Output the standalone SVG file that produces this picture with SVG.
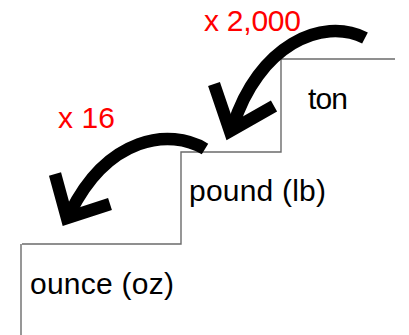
<svg xmlns="http://www.w3.org/2000/svg" width="409" height="335" viewBox="0 0 409 335">
<style>
.step{fill:none;stroke:#6b6b6b;stroke-width:1.4}
.arr{fill:none;stroke:#000;stroke-width:12.5}
.head{fill:none;stroke:#000;stroke-width:12.5;stroke-linejoin:miter;stroke-miterlimit:10}
.lbl{font-family:"Liberation Sans",Arial,sans-serif;font-size:30px;fill:#000}
.mul{font-family:"Liberation Sans",Arial,sans-serif;font-size:30px;fill:#ff0000}
</style>
<rect width="409" height="335" fill="#fff"/>
<g id="stairs">
<polyline class="step" points="395,59 281,59 281,152 181,152 181,244 22,244"/>
<line class="step" x1="21" y1="244" x2="21" y2="335"/>
</g>
<g id="connectors">
<path class="arr" d="M365 38 C 322 16, 258 46, 233 126"/>
<polyline class="head" points="214,84 230,131 274,106"/>
<path class="arr" d="M205 149 C 170 128, 108 136, 70 213"/>
<polyline class="head" points="55,174 67,218 110,204"/>
</g>
<g id="ton"><text class="lbl" x="308" y="109" textLength="40">ton</text></g>
<g id="pound"><text class="lbl" x="189" y="201" textLength="137">pound (lb)</text></g>
<g id="ounce"><text class="lbl" x="30" y="294" textLength="144">ounce (oz)</text></g>
<g id="mult2000"><text class="mul" x="204" y="31" textLength="97">x 2,000</text></g>
<g id="mult16"><text class="mul" x="58" y="128" textLength="57">x 16</text></g>
</svg>
